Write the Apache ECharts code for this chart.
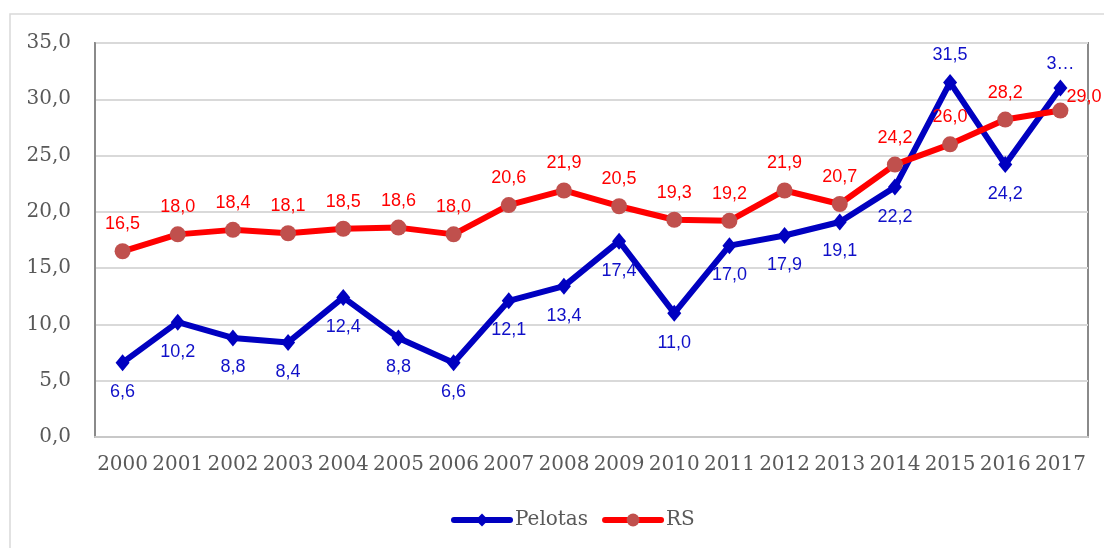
<!DOCTYPE html>
<html><head><meta charset="utf-8">
<script src="https://cdn.jsdelivr.net/npm/echarts@6/dist/echarts.min.js"></script>
<style>html,body{margin:0;padding:0;background:#fff}#c{width:1104px;height:548px}</style>
</head><body><div id="c"></div>
<script>
const years = ['2000','2001','2002','2003','2004','2005','2006','2007','2008','2009','2010','2011','2012','2013','2014','2015','2016','2017'];
const pelotas = [6.6,10.2,8.8,8.4,12.4,8.8,6.6,12.1,13.4,17.4,11.0,17.0,17.9,19.1,22.2,31.5,24.2,31.0];
const rs = [16.5,18.0,18.4,18.1,18.5,18.6,18.0,20.6,21.9,20.5,19.3,19.2,21.9,20.7,24.2,26.0,28.2,29.0];
const yTicks = {min:0, max:35, interval:5};

const fmt = v => v.toFixed(1).replace('.', ',');
const chart = echarts.init(document.getElementById('c'), null, {renderer:'canvas'});
const pelData = pelotas.map((v,i) => {
  if (i === pelotas.length-1) return {value:v, label:{position:'top', distance:6, formatter:'3…'}};
  if (i === 15) return {value:v, label:{position:'top', distance:10}};
  return v;
});
const rsData = rs.map((v,i) => i === rs.length-1
  ? {value:v, label:{position:'right', offset:[-12,-14]}}
  : v);
chart.setOption({
  animation:false,
  backgroundColor:'#fff',
  graphic:[{type:'rect', shape:{x:10,y:14,width:1110,height:560}, style:{fill:'none', stroke:'#d9d9d9', lineWidth:1.5}, silent:true}],
  grid:{left:95, top:43, right:16, bottom:111, show:true, borderColor:'#8a8a8a', borderWidth:2, backgroundColor:'transparent'},
  legend:{
    left:446, top:505, itemWidth:56, itemHeight:16, itemGap:14,
    lineStyle:{width:6, cap:'round'},
    textStyle:{fontFamily:'DejaVu Serif', fontSize:20, color:'#595959'},
    data:['Pelotas','RS']
  },
  xAxis:{
    type:'category', data:years, boundaryGap:true,
    axisLine:{lineStyle:{color:'#c8c8c8', width:2}},
    axisTick:{show:false},
    axisLabel:{fontFamily:'DejaVu Serif', fontSize:20, color:'#595959', margin:18, interval:0}
  },
  yAxis:{
    type:'value', min:yTicks.min, max:yTicks.max, interval:yTicks.interval,
    axisLine:{show:true, lineStyle:{color:'#8a8a8a', width:2}},
    axisTick:{show:false},
    splitLine:{lineStyle:{color:'#d9d9d9', width:2}},
    axisLabel:{fontFamily:'DejaVu Serif', fontSize:20, color:'#595959', margin:24, formatter:v=>fmt(v)}
  },
  series:[
    {name:'Pelotas', type:'line', data:pelData, symbol:'diamond', symbolSize:[14,17],
     lineStyle:{color:'#0000c0', width:6}, itemStyle:{color:'#0000c0'},
     label:{show:true, position:'bottom', distance:12, color:'#1010c8', fontFamily:'Liberation Sans', fontSize:18, formatter:p=>fmt(p.value)},
     z:2},
    {name:'RS', type:'line', data:rsData, symbol:'circle', symbolSize:16,
     lineStyle:{color:'#ff0000', width:6}, itemStyle:{color:'#c0504d'},
     label:{show:true, position:'top', distance:10, color:'#ff0000', fontFamily:'Liberation Sans', fontSize:18, formatter:p=>fmt(p.value)},
     z:3}
  ]
});
</script></body></html>
